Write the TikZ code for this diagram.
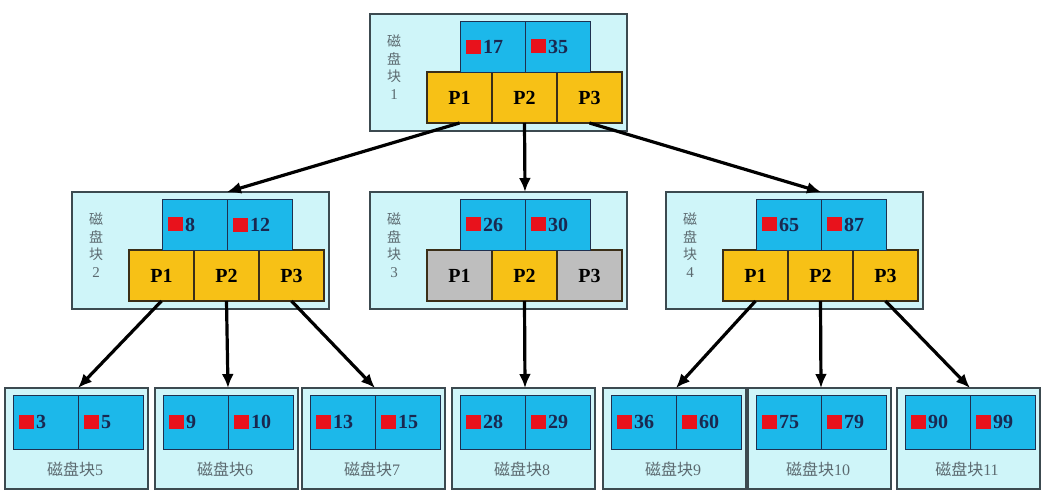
\documentclass[tikz,border=0pt]{standalone}
\usepackage{fontspec}
\setmainfont{Liberation Serif}
\newfontfamily\cjk{Noto Sans CJK SC}
\usetikzlibrary{arrows.meta}
\definecolor{outerfill}{HTML}{CFF5F9}
\definecolor{outerline}{HTML}{3C4A50}
\definecolor{keyfill}{HTML}{1CB8EA}
\definecolor{keyline}{HTML}{1E3050}
\definecolor{pfill}{HTML}{F7C116}
\definecolor{pline}{HTML}{3A2E18}
\definecolor{pgray}{HTML}{BEBEBE}
\definecolor{sqred}{HTML}{E8121C}
\definecolor{numcol}{HTML}{1A2850}
\definecolor{labcol}{HTML}{5C6A70}
\tikzset{
  outerbox/.style={draw=outerline, fill=outerfill, line width=1.3pt, minimum width=257pt, minimum height=117pt, anchor=north west, inner sep=0pt, outer sep=0pt},
  lowbox/.style={draw=outerline, fill=outerfill, line width=1.3pt, minimum width=143pt, minimum height=101pt, anchor=north west, inner sep=0pt, outer sep=0pt},
  keycell/.style={draw=keyline, fill=keyfill, line width=1pt, minimum width=65pt, minimum height=#1, anchor=north west, inner sep=0pt, outer sep=0pt},
  keycell/.default=51pt,
  pcell/.style={draw=pline, fill=#1, line width=1.2pt, minimum width=65pt, minimum height=51pt, anchor=north west, inner sep=0pt, outer sep=0pt, font=\fontsize{20}{20}\selectfont\bfseries, text=black},
  pcell/.default=pfill,
  keytext/.style={anchor=west, inner sep=0pt, text=numcol, font=\fontsize{20}{20}\selectfont\bfseries},
  vlabel/.style={anchor=north, align=center, inner sep=0pt, text=labcol, font=\cjk\fontsize{14}{17.5}\selectfont},
  blabel/.style={inner sep=0pt, text=labcol, font=\fontsize{16}{16}\selectfont},
  arr/.style={line width=3.2pt, draw=black, -{Latex[length=14pt,width=12pt]}}
}
\newcommand\sq{{\color{sqred}\rule{15pt}{14pt}}\kern2pt}
% upper block: name, P-left x, outer top y, label digit, key1, key2, fill1, fill2, fill3
\newcommand\upblock[9]{%
  \node[outerbox] (#1) at (#2-57,#3) {};
  \node[vlabel] (#1lab) at (#2-33,#3+21) {磁\\盘\\块\\{\rmfamily\fontsize{15}{17.5}\selectfont #4}};
  \node[pcell=#7] (#1p1) at (#2,#3+58) {P1};
  \node[pcell=#8] (#1p2) at (#2+65,#3+58) {P2};
  \node[pcell=#9] (#1p3) at (#2+130,#3+58) {P3};
  \node[keycell] (#1k1) at (#2+33,#3+7) {};
  \node[keycell] (#1k2) at (#2+98,#3+7) {};
  \node[keytext] (#1t1) at ([xshift=6pt]#1k1.west) {\sq#5};
  \node[keytext] (#1t2) at ([xshift=6pt]#1k2.west) {\sq#6};
}
% lower block: name, outer left x, label number, key1, key2
\newcommand\lowblock[5]{%
  \node[lowbox] (#1) at (#2,388) {};
  \node[keycell=54pt] (#1k1) at (#2+8,395) {};
  \node[keycell=54pt] (#1k2) at (#2+73,395) {};
  \node[keytext] (#1t1) at ([xshift=6pt]#1k1.west) {\sq#4};
  \node[keytext] (#1t2) at ([xshift=6pt]#1k2.west) {\sq#5};
  \node[blabel] (#1lab) at (#2+70,469) {{\cjk 磁盘块}#3};
}
\begin{document}
\begin{tikzpicture}[x=1pt,y=-1pt]
\fill[white] (0,0) rectangle (1050,501);
\useasboundingbox (0,0) rectangle (1050,501);
\upblock{b1}{427}{14}{1}{17}{35}{pfill}{pfill}{pfill}
\upblock{b2}{129}{192}{2}{8}{12}{pfill}{pfill}{pfill}
\upblock{b3}{427}{192}{3}{26}{30}{pgray}{pfill}{pgray}
\upblock{b4}{723}{192}{4}{65}{87}{pfill}{pfill}{pfill}
\lowblock{b5}{5}{5}{3}{5}
\lowblock{b6}{155}{6}{9}{10}
\lowblock{b7}{302}{7}{13}{15}
\lowblock{b8}{452}{8}{28}{29}
\lowblock{b9}{603}{9}{36}{60}
\lowblock{b10}{748}{10}{75}{79}
\lowblock{b11}{897}{11}{90}{99}
\draw[arr] (b1p1.south) -- (b2.north -| b2k1.east);
\draw[arr] (b1p2.south) -- (b3.north -| b3k1.east);
\draw[arr] (b1p3.south) -- (b4.north -| b4k1.east);
\draw[arr] (b2p1.south) -- (b5.north -| b5k1.east);
\draw[arr] (b2p2.south) -- (b6.north -| b6k1.east);
\draw[arr] (b2p3.south) -- (b7.north -| b7k1.east);
\draw[arr] (b3p2.south) -- (b8.north -| b8k1.east);
\draw[arr] (b4p1.south) -- (b9.north -| b9k1.east);
\draw[arr] (b4p2.south) -- (b10.north -| b10k1.east);
\draw[arr] (b4p3.south) -- (b11.north -| b11k1.east);
\end{tikzpicture}
\end{document}
